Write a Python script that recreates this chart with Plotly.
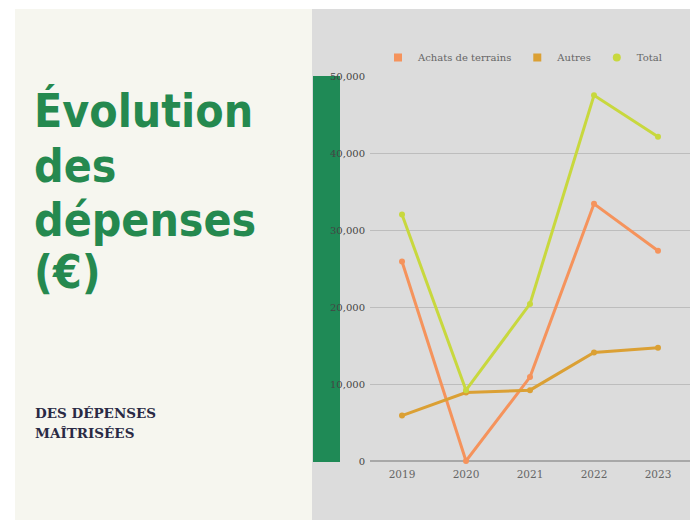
import plotly.graph_objects as go

years = ["2019", "2020", "2021", "2022", "2023"]
achats = [25900, 0, 10900, 33400, 27300]
autres = [5900, 8900, 9200, 14100, 14700]
total = [32000, 9200, 20400, 47500, 42100]
series_names = ["Achats de terrains", "Autres", "Total"]
series_colors = ["#f5935c", "#dba034", "#c8d83e"]
legend_symbols = ["square", "square", "circle"]
y_ticks = [0, 10000, 20000, 30000, 40000, 50000]
title_lines = ["Évolution", "des", "dépenses", "(€)"]
subtitle_lines = ["DES DÉPENSES", "MAÎTRISÉES"]

W, H = 690, 520
def px(x):
    return x / W
def py(y):
    return 1 - y / H

fig = go.Figure()
for name, vals, col in zip(series_names, [achats, autres, total], series_colors):
    fig.add_trace(go.Scatter(x=years, y=vals, mode="lines+markers", name=name,
                             line=dict(color=col, width=3),
                             marker=dict(color=col, size=6),
                             showlegend=False, cliponaxis=False))
for name, col, sym in zip(series_names, series_colors, legend_symbols):
    fig.add_trace(go.Scatter(x=[None], y=[None], mode="markers", name=name,
                             marker=dict(color=col, size=8, symbol=sym)))

shapes = [
    dict(type="rect", xref="paper", yref="paper", x0=px(15), x1=px(312), y0=0, y1=py(9),
         fillcolor="#f6f6ef", line=dict(width=0), layer="below"),
    dict(type="rect", xref="paper", yref="paper", x0=px(312), x1=1, y0=0, y1=py(9),
         fillcolor="#dcdcdc", line=dict(width=0), layer="below"),
    dict(type="rect", xref="paper", yref="paper", x0=px(313), x1=px(340), y0=py(462), y1=py(76),
         fillcolor="#1f8a56", line=dict(width=0), layer="below"),
]

annotations = []
title_centers = [111, 166, 220, 272]
for txt, yc in zip(title_lines, title_centers):
    annotations.append(dict(text="<b>" + txt + "</b>", x=px(32), y=py(yc), xref="paper", yref="paper",
                            xanchor="left", yanchor="middle", showarrow=False,
                            font=dict(family="DejaVu Sans Condensed, sans-serif",
                                      size=46, color="#25894f")))
for txt, yc in zip(subtitle_lines, [413, 433]):
    annotations.append(dict(text="<b>" + txt + "</b>", x=px(33), y=py(yc), xref="paper", yref="paper",
                            xanchor="left", yanchor="middle", showarrow=False,
                            font=dict(family="DejaVu Serif, serif", size=13.5, color="#2a2a44")))

fig.update_layout(
    width=W, height=H,
    margin=dict(l=0, r=0, t=0, b=0, autoexpand=False),
    paper_bgcolor="#ffffff",
    plot_bgcolor="rgba(0,0,0,0)",
    shapes=shapes,
    annotations=annotations,
    showlegend=True,
    legend=dict(orientation="h", x=px(378), y=py(43), xanchor="left", yanchor="top",
                bgcolor="rgba(0,0,0,0)",
                font=dict(family="DejaVu Serif, serif", size=10, color="#666666")),
    xaxis=dict(domain=[px(370), 1], type="category", range=[-0.5, 4.5], automargin=False,
               showgrid=False, zeroline=False, showline=False, ticklabelstandoff=5,
               tickfont=dict(family="DejaVu Serif, serif", size=10.5, color="#666666")),
    yaxis=dict(domain=[py(461), py(76)], range=[0, 50000], tickvals=y_ticks, automargin=False,
               tickformat=",", showgrid=True, gridcolor="#bdbdbd", gridwidth=1,
               zeroline=True, zerolinecolor="#a8a8a8", zerolinewidth=1.5, showline=False,
               ticklabelstandoff=4,
               tickfont=dict(family="DejaVu Serif, serif", size=10, color="#444444")),
)

fig.write_html("out.html", config={"displayModeBar": False},
               post_script="document.body.style.margin='0';document.body.style.overflow='hidden';")
